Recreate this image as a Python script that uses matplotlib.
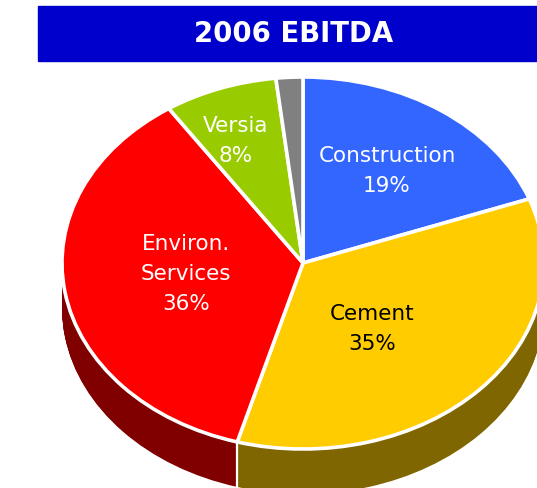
import numpy as np
from matplotlib import pyplot as plt
from matplotlib.patches import Rectangle

W, H = 537, 489

# shares as measured on the drawn slices, clockwise from 12 o'clock
segments = ["Construction", "Cement", "Environ.\nServices", "Versia", "Other"]
shares = [19.4, 35.0, 36.2, 7.6, 1.8]
top_colors = ["#3366FF", "#FFCC00", "#FF0000", "#99CC00", "#808080"]
side_colors = ["#1A3380", "#806600", "#800000", "#4D6600", "#404040"]
labels = ["Construction\n19%", "Cement\n35%", "Environ.\nServices\n36%", "Versia\n8%"]
label_colors = ["white", "black", "white", "white"]
label_pos = [(387, 171), (372, 329), (186, 274), (236, 141)]

CX, CY = 303, 264
RX, RY = 241, 186
DEPTH = 45 / RY


def fig_xy(px, py):
    return px / W, 1 - py / H


def main():
    fig = plt.figure(figsize=(W / 100, H / 100), dpi=100)
    fig.patches.append(Rectangle((38 / W, 1 - 62 / H), (W - 38) / W, 55 / H,
                                 transform=fig.transFigure, color="#0000CC"))
    fig.text(*fig_xy(294, 34), "2006 EBITDA", color="white", fontsize=19.8,
             fontweight="bold", ha="center", va="center")

    ax = fig.add_axes([0, 0, 1, 1])

    # the rim is a stack of dark pies, the top one sits over it
    for d in np.linspace(DEPTH, 0, 60):
        ax.pie(shares, colors=side_colors, startangle=90, counterclock=False,
               center=(0, -d), radius=1)
    ax.pie(shares, colors=top_colors, startangle=90, counterclock=False,
           wedgeprops={"edgecolor": "white", "linewidth": 2.6, "joinstyle": "round"})

    # white line down the rim between Environ. Services and Cement
    ang = np.radians(90 - 360 * sum(shares[:2]) / sum(shares))
    ax.vlines(np.cos(ang), np.sin(ang) - DEPTH, np.sin(ang), color="white", linewidth=1.6)

    ax.set_aspect("auto")
    ax.set_xlim(-CX / RX, (W - CX) / RX)
    ax.set_ylim((CY - H) / RY, CY / RY)
    ax.axis("off")

    for text, color, pos in zip(labels, label_colors, label_pos):
        fig.text(*fig_xy(*pos), text, color=color, fontsize=15.5, ha="center",
                 va="center", linespacing=1.6, multialignment="center")

    fig.savefig("out.png", dpi=100)


if __name__ == '__main__':
    main()
